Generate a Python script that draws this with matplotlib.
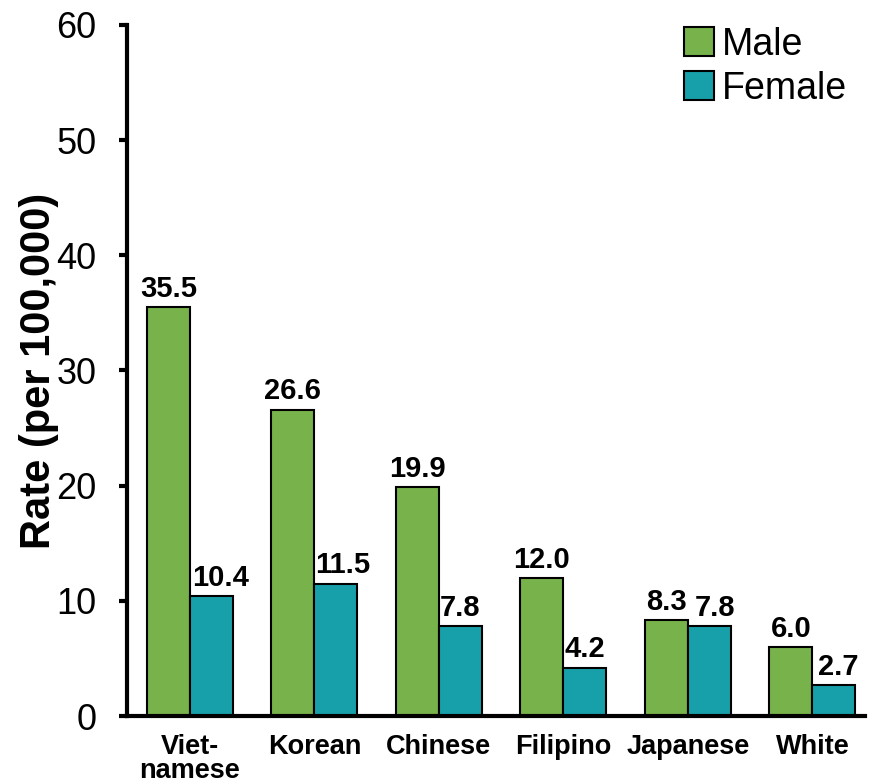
import matplotlib
matplotlib.use("Agg")
import matplotlib.pyplot as plt
import numpy as np

categories = ["Viet-\nnamese", "Korean", "Chinese", "Filipino", "Japanese", "White"]
male = [35.5, 26.6, 19.9, 12.0, 8.3, 6.0]
female = [10.4, 11.5, 7.8, 4.2, 7.8, 2.7]
yticks = [0, 10, 20, 30, 40, 50, 60]

plt.rcParams['font.family'] = ['Liberation Sans', 'DejaVu Sans']

fig = plt.figure(figsize=(8.72, 7.81), dpi=100)
ax = fig.add_axes([0.1456, 0.0832, 0.846, 0.885])

x = np.arange(len(categories))
w = 0.345
green = '#77b24a'
teal = '#17a0aa'
bm = ax.bar(x - w/2, male, w, color=green, edgecolor='black', linewidth=1.5, label='Male')
bf = ax.bar(x + w/2, female, w, color=teal, edgecolor='black', linewidth=1.5, label='Female')

# small horizontal nudges (points) of some value labels, as in the original
nudge = {('f', 0): 6.5, ('f', 1): 5, ('f', 4): 4, ('f', 5): 3}
for key, bars, vals in (('m', bm, male), ('f', bf, female)):
    for i, (b, v) in enumerate(zip(bars, vals)):
        ax.annotate(f"{v:.1f}", (b.get_x() + b.get_width()/2, v),
                    xytext=(nudge.get((key, i), 0), 3),
                    textcoords='offset points', ha='center', va='bottom',
                    fontsize=21, fontweight='bold')

ax.set_xlim(-0.505, 5.42)
ax.set_ylim(0, 60)
ax.set_yticks(yticks)
ax.set_xticks(x)
ax.set_xticklabels(categories, fontsize=19.5, fontweight='bold', linespacing=0.92)
ax.tick_params(axis='x', length=0, pad=13)
ax.tick_params(axis='y', length=6, width=3, labelsize=26, direction='out', pad=16)
for s in ('top', 'right'):
    ax.spines[s].set_visible(False)
for s in ('left', 'bottom'):
    ax.spines[s].set_linewidth(3)
ax.set_ylabel("Rate (per 100,000)", fontsize=30, fontweight='bold')
ax.yaxis.set_label_coords(-0.092, 0.5)

leg = ax.legend(loc='upper right', bbox_to_anchor=(1.006, 1.03), frameon=False, fontsize=27,
                handlelength=0.8, handleheight=0.8, handletextpad=0.2, labelspacing=0.22,
                borderaxespad=0.2)

fig.savefig("out.png", dpi=100)
